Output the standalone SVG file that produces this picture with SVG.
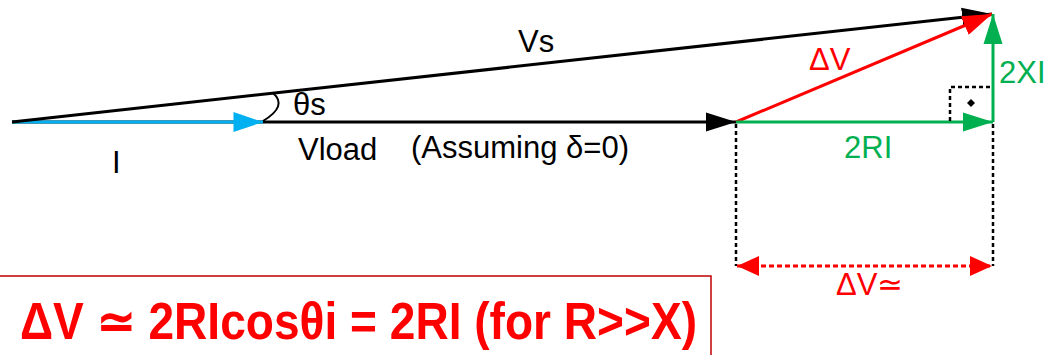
<svg xmlns="http://www.w3.org/2000/svg" width="1050" height="355" viewBox="0 0 1050 355">
<defs>
<style>
.t{font-family:"Liberation Sans",Arial,sans-serif;font-size:31px}
.k{fill:#000}
.r{fill:#FF0000}
.g{fill:#00B050}
.ln{fill:none;stroke-width:3}
.dot{fill:none;stroke:#000;stroke-width:2.5;stroke-dasharray:4 3}
</style>
<marker id="ak" markerUnits="userSpaceOnUse" markerWidth="30" markerHeight="20" refX="30" refY="9.5" orient="auto" viewBox="0 0 30 19"><path d="M0,0 L30,9.5 L0,19 z" fill="#000"/></marker>
<marker id="ab" markerUnits="userSpaceOnUse" markerWidth="30" markerHeight="20" refX="28" refY="9.5" orient="auto" viewBox="0 0 28 19"><path d="M0,0 L28,9.5 L0,19 z" fill="#00B0F0"/></marker>
<marker id="ag" markerUnits="userSpaceOnUse" markerWidth="30" markerHeight="20" refX="30" refY="9.5" orient="auto" viewBox="0 0 30 19"><path d="M0,0 L30,9.5 L0,19 z" fill="#00B050"/></marker>
<marker id="ar" markerUnits="userSpaceOnUse" markerWidth="30" markerHeight="20" refX="28" refY="9.5" orient="auto" viewBox="0 0 28 19"><path d="M0,0 L28,9.5 L0,19 z" fill="#FF0000"/></marker>
<marker id="ard" markerUnits="userSpaceOnUse" markerWidth="22" markerHeight="20" refX="20" refY="9" orient="auto-start-reverse" viewBox="0 0 20 18"><path d="M0,0 L20,9 L0,18 z" fill="#FF0000"/></marker>
</defs>

<g id="connectors">
<line class="ln" x1="12" y1="122" x2="736" y2="122" stroke="#000" marker-end="url(#ak)"/>
<line class="ln" x1="12" y1="122" x2="263" y2="122" stroke="#00B0F0" marker-end="url(#ab)"/>
<line class="ln" x1="12" y1="122" x2="992" y2="14" stroke="#000" marker-end="url(#ak)"/>
<line class="ln" x1="736" y1="122" x2="992" y2="14" stroke="#FF0000" marker-end="url(#ar)"/>
<line class="ln" x1="736" y1="122" x2="993" y2="122" stroke="#00B050" marker-end="url(#ag)"/>
<line class="ln" x1="993" y1="122" x2="993" y2="14" stroke="#00B050" marker-end="url(#ag)"/>
<path d="M273,93 Q288,106 263,121" fill="none" stroke="#000" stroke-width="2"/>
<path class="dot" d="M950,121 V87 H992" stroke-width="2" stroke-dasharray="4 3"/>
<path d="M971,99 L975,103 L971,107 L967,103 z" fill="#000"/>
<line class="dot" x1="736" y1="124" x2="736" y2="266"/>
<line class="dot" x1="993" y1="124" x2="993" y2="266"/>
<line x1="737" y1="266" x2="992" y2="266" stroke="#FF0000" stroke-width="3" stroke-dasharray="5 3" marker-start="url(#ard)" marker-end="url(#ard)"/>
</g>

<g id="labels">
<text class="t k" x="518" y="52">Vs</text>
<text class="t k" x="293" y="115">θs</text>
<text class="t k" x="298" y="160">Vload</text>
<text class="t k" x="411" y="158">(Assuming δ=0)</text>
<text class="t k" x="112" y="173">I</text>
<text class="t r" x="809" y="70">ΔV</text>
<text class="t g" x="999" y="83">2XI</text>
<text class="t g" x="844" y="158">2RI</text>
<text class="t r" x="836" y="295">ΔV≃</text>
</g>

<g id="formula">
<rect x="-2" y="276" width="713" height="90" fill="#fff" stroke="#C00000" stroke-width="1.5"/>
<text x="20" y="339" font-family="'Liberation Sans',Arial,sans-serif" font-weight="bold" font-size="52" fill="#FF0000" textLength="677" lengthAdjust="spacingAndGlyphs">ΔV ≃ 2RIcosθi = 2RI (for R&gt;&gt;X)</text>
</g>
</svg>
